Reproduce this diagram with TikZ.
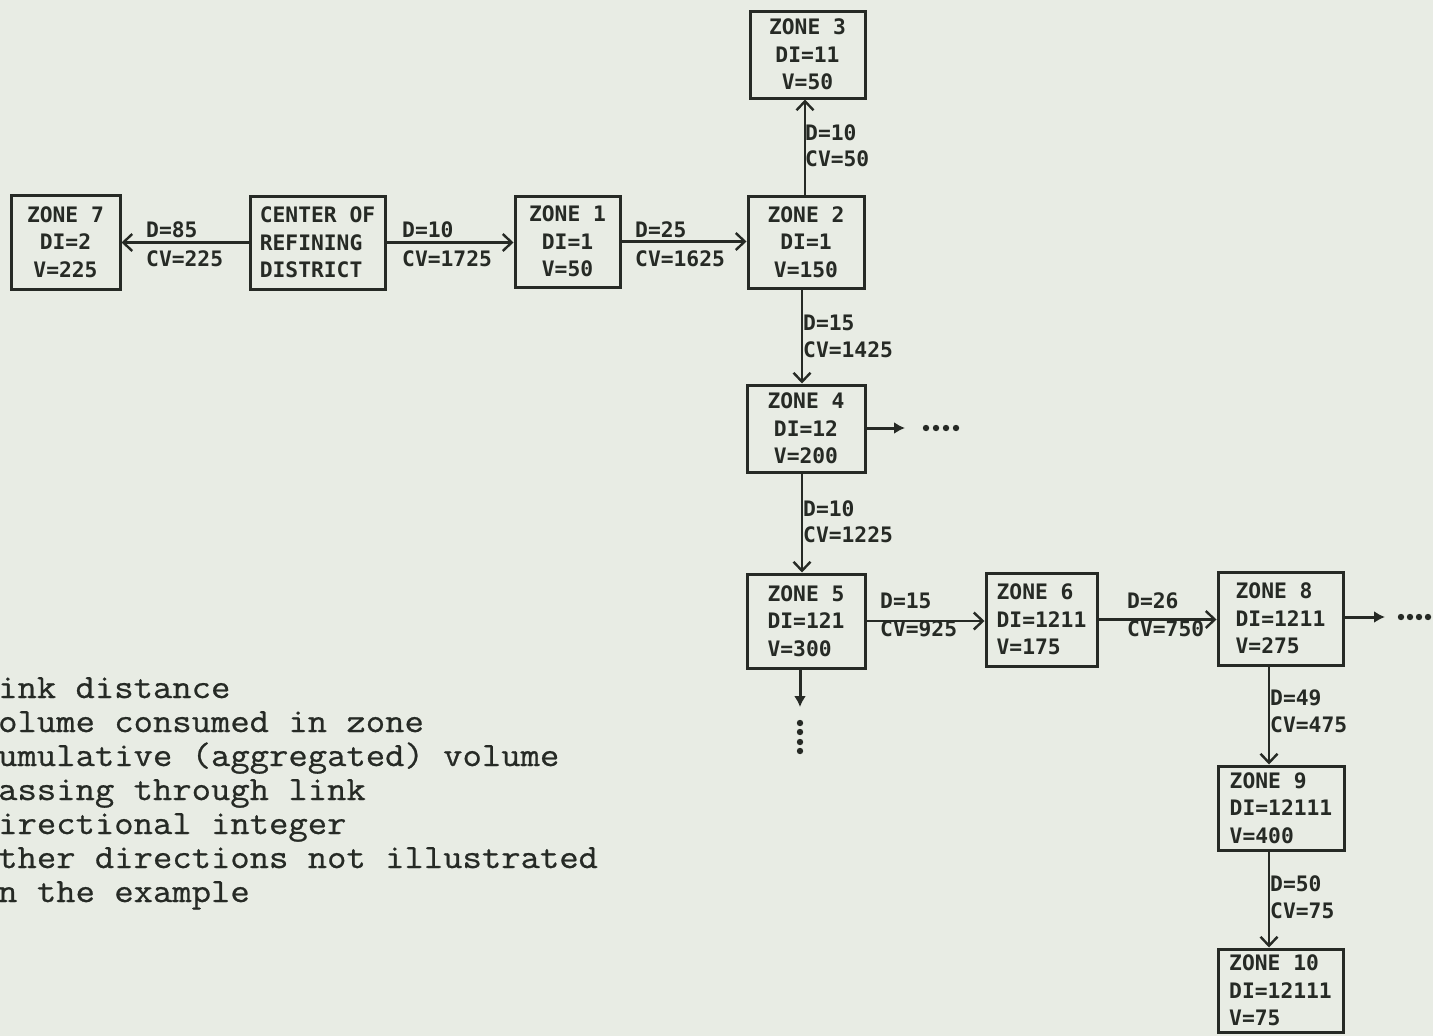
\documentclass[tikz,border=0pt]{standalone}
\usepackage{fontspec}
\newfontfamily\bxf{DejaVu Sans Mono}
\newfontfamily\legf{Latin Modern Mono}[FakeBold=0.7, FakeStretch=1.105]
\usetikzlibrary{arrows.meta}
\definecolor{paper}{HTML}{E8ECE4}
\definecolor{ink}{HTML}{262A25}
\begin{document}
\begin{tikzpicture}[x=1pt,y=-1pt,
  zbox/.style={draw=ink, line width=3pt, inner sep=0pt, text=ink,
    font={\bxf\bfseries\fontsize{21.3}{27.5}\selectfont}},
  lab/.style={inner sep=0pt, anchor=base west, text=ink, text height=15pt, text depth=1pt,
    font={\bxf\bfseries\fontsize{21.3}{27}\selectfont}},
  link/.style={draw=ink, line width=2.6pt, -{Straight Barb[length=9pt,width=17pt,line width=2.4pt]}},
  stub/.style={draw=ink, line width=3pt, -{Latex[length=11pt,width=12pt]}},
  legtext/.style={inner sep=0pt, anchor=base west, text=ink, align=left,
    font={\legf\fontsize{34}{34}\selectfont}},
  dot/.style={fill=ink}
  ]
\useasboundingbox (0,0) rectangle (1433,1036);
\fill[paper] (0,0) rectangle (1433,1036);

% boxes
\node[zbox, minimum width=109pt, minimum height=94pt, align=center] (z7) at (65.5,242) {ZONE 7\\DI=2\\V=225};
\node[zbox, minimum width=135pt, minimum height=93pt, align=left] (crd) at (317.5,242.5) {CENTER OF\\REFINING\\DISTRICT};
\node[zbox, minimum width=105pt, minimum height=91pt, align=center] (z1) at (567.5,241.5) {ZONE 1\\DI=1\\V=50};
\node[zbox, minimum width=116pt, minimum height=92pt, align=center] (z2) at (806,242) {ZONE 2\\DI=1\\V=150};
\node[zbox, minimum width=115pt, minimum height=87pt, align=center] (z3) at (807.5,54.5) {ZONE 3\\DI=11\\V=50};
\node[zbox, minimum width=118pt, minimum height=87pt, align=center] (z4) at (806,428.5) {ZONE 4\\DI=12\\V=200};
\node[zbox, minimum width=118pt, minimum height=94pt, align=left] (z5) at (806,621) {ZONE 5\\DI=121\\V=300};
\node[zbox, minimum width=111pt, minimum height=93pt, align=left] (z6) at (1041.5,619.5) {ZONE 6\\DI=1211\\V=175};
\node[zbox, minimum width=125pt, minimum height=93pt, align=left] (z8) at (1280.5,618.5) {ZONE 8\\DI=1211\\V=275};
\node[zbox, minimum width=126pt, minimum height=84pt, align=left] (z9) at (1281,808) {ZONE 9\\DI=12111\\V=400};
\node[zbox, minimum width=125pt, minimum height=83pt, align=left] (z10) at (1280.5,990.5) {ZONE 10\\DI=12111\\V=75};

% x positions of the vertical links
\coordinate (v23) at (805,0);
\coordinate (v24) at (802,0);
\coordinate (v89) at (1269,0);

% links
\draw[link] (crd.west) -- (crd.west -| z7.east);
\draw[link] (crd.east) -- (crd.east -| z1.west);
\draw[link] (z1.east) -- (z1.east -| z2.west);
\draw[link] (v23 |- z2.north) -- (v23 |- z3.south);
\draw[link] (v24 |- z2.south) -- (v24 |- z4.north);
\draw[link] (v24 |- z4.south) -- (v24 |- z5.north);
\draw[link] (z5.east) -- (z5.east -| z6.west);
\draw[link] (z6.east) -- (z6.east -| z8.west);
\draw[link] (v89 |- z8.south) -- (v89 |- z9.north);
\draw[link] (v89 |- z9.south) -- (v89 |- z10.north);

% link labels
\node[lab] (l1a) at (146,237) {D=85};
\node[lab] (l1b) at (146,266) {CV=225};
\node[lab] (l2a) at (402,237) {D=10};
\node[lab] (l2b) at (402,266) {CV=1725};
\node[lab] (l3a) at (635,237) {D=25};
\node[lab] (l3b) at (635,266) {CV=1625};
\node[lab] (l4a) at (805,140) {D=10};
\node[lab] (l4b) at (805,166) {CV=50};
\node[lab] (l5a) at (803,330) {D=15};
\node[lab] (l5b) at (803,357) {CV=1425};
\node[lab] (l6a) at (803,516) {D=10};
\node[lab] (l6b) at (803,542) {CV=1225};
\node[lab] (l7a) at (880,608) {D=15};
\node[lab] (l7b) at (880,636) {CV=925};
\node[lab] (l8a) at (1127,608) {D=26};
\node[lab] (l8b) at (1127,636) {CV=750};
\node[lab] (l9a) at (1270,705) {D=49};
\node[lab] (l9b) at (1270,732) {CV=475};
\node[lab] (l10a) at (1270,891) {D=50};
\node[lab] (l10b) at (1270,918) {CV=75};

% stubs to other directions
\coordinate (e4) at (905,428);
\draw[stub] (z4.east |- e4) -- (e4);
\foreach \x in {926,936,946,956} \fill[dot] (\x,428) circle (3.2pt);
\coordinate (e8) at (1385,617);
\draw[stub] (z8.east |- e8) -- (e8);
\foreach \x in {1401,1410,1419,1428} \fill[dot] (\x,617) circle (3.2pt);
\coordinate (e5) at (800,707);
\draw[stub] (e5 |- z5.south) -- (e5);
\foreach \y in {723,732,742,751} \fill[dot] (800,\y) circle (3.2pt);

% legend (base anchor = baseline of the last line)
\node[legtext] (leg) at (-2,902) {ink distance\\olume consumed in zone\\umulative (aggregated) volume\\assing through link\\irectional integer\\ther directions not illustrated\\n the example};
\end{tikzpicture}
\end{document}
